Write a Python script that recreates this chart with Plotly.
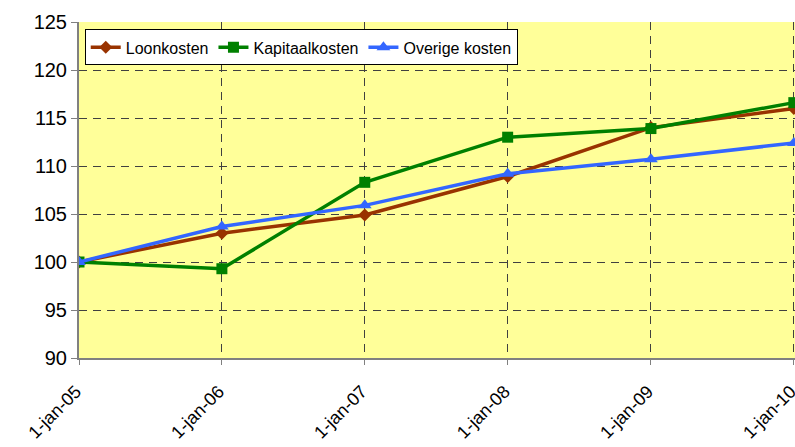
import plotly.graph_objects as go

# jaren (1 januari) en indexcijfers per kostensoort
datums = ["2005-01-01", "2006-01-01", "2007-01-01", "2008-01-01", "2009-01-01", "2010-01-01"]
tick_labels = ["1-jan-05", "1-jan-06", "1-jan-07", "1-jan-08", "1-jan-09", "1-jan-10"]
loonkosten = [100, 103.0, 104.9, 108.9, 114.0, 116.0]
kapitaalkosten = [100, 99.3, 108.3, 113.0, 113.9, 116.6]
overige_kosten = [100, 103.7, 105.9, 109.2, 110.7, 112.4]

fig = go.Figure()
fig.add_trace(go.Scatter(x=datums, y=loonkosten, name="Loonkosten", mode="lines+markers",
                         line=dict(color="#993300", width=3.5),
                         marker=dict(symbol="diamond", size=10, color="#993300")))
fig.add_trace(go.Scatter(x=datums, y=kapitaalkosten, name="Kapitaalkosten", mode="lines+markers",
                         line=dict(color="#008000", width=3.5),
                         marker=dict(symbol="square", size=11, color="#008000")))
fig.add_trace(go.Scatter(x=datums, y=overige_kosten, name="Overige kosten", mode="lines+markers",
                         line=dict(color="#3366FF", width=3.5),
                         marker=dict(symbol="triangle-up", size=12, color="#3366FF")))

fig.update_layout(
    width=795, height=447,
    margin=dict(l=79, r=0, t=22, b=89),
    paper_bgcolor="white",
    plot_bgcolor="#FFFF99",
    font=dict(family="Liberation Sans, Arial", color="black"),
    legend=dict(orientation="h", x=0.008, y=0.978, xanchor="left", yanchor="top",
                bgcolor="white", bordercolor="black", borderwidth=1,
                font=dict(size=16), itemwidth=30, tracegroupgap=0),
    showlegend=True,
)
fig.update_xaxes(
    range=["2005-01-01", "2010-01-04"], automargin=False,
    tickvals=datums, ticktext=tick_labels, tickangle=-45,
    tickfont=dict(size=18), ticklabeloverflow="allow",
    ticklabelstandoff=9, ticklabelshift=-3,
    showgrid=True, gridcolor="#404040", griddash="8px,6px", gridwidth=1,
    showline=True, linecolor="#808080", linewidth=2,
    ticks="outside", ticklen=5, tickcolor="#808080",
)
fig.update_yaxes(
    range=[90, 125], dtick=5, automargin=False,
    tickfont=dict(size=20),
    showgrid=True, gridcolor="#404040", griddash="8px,6px", gridwidth=1,
    showline=True, linecolor="#808080", linewidth=2,
    ticks="outside", ticklen=6, tickcolor="#808080",
    zeroline=False,
)

# body-marge weg zodat de figuur precies in het venster past
fig.write_html("out.html", config={"displayModeBar": False},
               post_script="document.body.style.margin='0';")
